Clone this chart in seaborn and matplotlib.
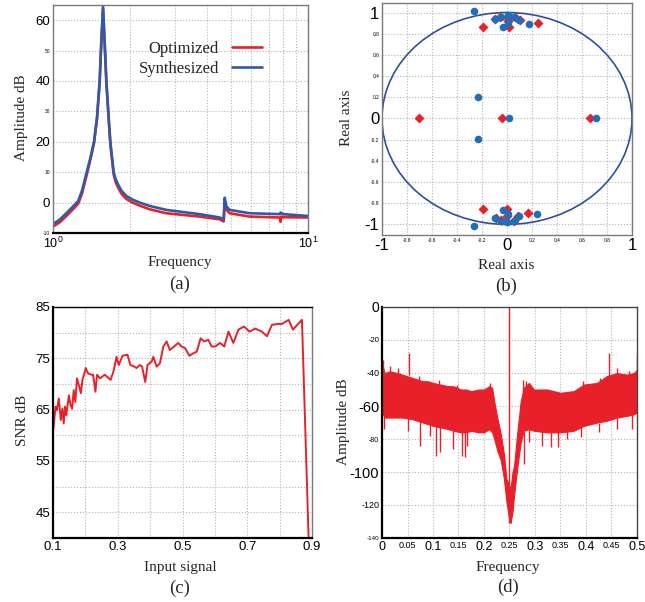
import numpy as np
import pandas as pd
import seaborn as sns
import matplotlib.pyplot as plt
from matplotlib.patches import Circle

# (a) magnitude response, dB
freq_a = [1.0, 1.062, 1.128, 1.19, 1.255, 1.30, 1.355, 1.40, 1.448, 1.488, 1.524, 1.547,
          1.571, 1.594, 1.619, 1.653, 1.678, 1.729, 1.76, 1.798, 1.86, 1.939, 2.05, 2.188,
          2.394, 2.783, 3.76, 4.504, 4.67, 4.713, 4.784, 4.93, 5.904, 7.745, 7.80, 7.862,
          7.98, 10.0]
optimized_db = [-7.9, -6.5, -4.4, -2.4, -0.4, 3.0, 9.0, 14.0, 19.5, 27.5, 39.5, 52.5,
                63.8, 52.5, 39.5, 27.5, 19.3, 9.3, 6.8, 5.0, 2.8, 1.2, 0.0, -1.0,
                -2.2, -3.5, -4.6, -5.5, -6.2, 0.5, -2.3, -3.5, -4.6, -4.9, -6.3, -4.6,
                -4.8, -4.9]
synthesized_db = [-7.1, -5.6, -3.5, -1.5, 0.5, 4.0, 10.0, 14.5, 20.0, 28.0, 40.0, 53.0,
                  64.6, 53.0, 40.0, 28.0, 20.0, 10.0, 7.8, 6.0, 3.8, 2.2, 1.0, 0.0,
                  -1.1, -2.4, -3.8, -4.9, -5.5, 1.6, -1.2, -2.4, -3.5, -3.8, -3.3, -3.4,
                  -3.8, -4.4]

# (b) pole / zero locations
red_x = [-0.099, -0.053, 0.008, 0.061, 0.101, 0.008, -0.195, 0.013, 0.248,
         -0.704, -0.04, 0.661,
         -0.195, 0.003, 0.171, -0.091, -0.051, 0.003, 0.053, 0.091]
red_y = [0.94, 0.956, 0.946, 0.959, 0.93, 0.924, 0.861, 0.861, 0.905,
         0.0, 0.0, 0.0,
         -0.852, -0.858, -0.89, -0.937, -0.962, -0.924, -0.968, -0.924]
blue_x = [-0.264, -0.093, -0.045, 0.008, 0.056, 0.096, 0.008, -0.032, 0.176,
          -0.232, -0.232, 0.013, 0.715,
          -0.264, -0.093, -0.045, 0.003, 0.056, 0.093, 0.008, -0.035, 0.24]
blue_y = [1.013, 0.94, 0.962, 0.975, 0.962, 0.93, 0.899, 0.862, 0.893,
          0.202, -0.196, 0.0, 0.0,
          -1.016, -0.937, -0.965, -0.978, -0.965, -0.924, -0.905, -0.864, -0.902]

# (c) SNR vs input signal
input_signal = [0.100, 0.108, 0.112, 0.118, 0.124, 0.129, 0.133, 0.137, 0.141, 0.149,
                0.154, 0.159, 0.164, 0.169, 0.174, 0.181, 0.186, 0.191, 0.196, 0.201,
                0.208, 0.219, 0.224, 0.231, 0.236, 0.245, 0.260, 0.267, 0.278, 0.288,
                0.296, 0.303, 0.315, 0.330, 0.339, 0.351, 0.358, 0.368, 0.375, 0.385,
                0.392, 0.405, 0.410, 0.420, 0.430, 0.441, 0.451, 0.461, 0.474, 0.487,
                0.497, 0.508, 0.521, 0.534, 0.544, 0.556, 0.567, 0.580, 0.590, 0.601,
                0.616, 0.629, 0.642, 0.657, 0.673, 0.690, 0.707, 0.725, 0.745, 0.761,
                0.776, 0.792, 0.807, 0.828, 0.841, 0.869, 0.890]
snr_db = [60.7, 65.6, 64.9, 67.2, 63.0, 65.2, 62.3, 65.6, 63.9, 67.8,
          65.9, 65.2, 68.8, 66.5, 71.1, 69.5, 68.2, 70.8, 71.8, 73.1,
          72.1, 71.8, 71.8, 68.5, 71.8, 71.1, 71.8, 71.4, 70.8, 72.7,
          75.3, 73.7, 75.5, 75.7, 73.7, 73.4, 73.1, 73.7, 73.4, 70.4,
          73.7, 74.4, 75.3, 73.4, 74.0, 77.3, 78.3, 76.6, 77.3, 78.0,
          77.3, 77.0, 75.5, 76.0, 76.3, 78.9, 78.3, 78.6, 77.3, 77.3,
          78.0, 77.3, 80.2, 78.0, 80.6, 81.2, 80.2, 80.8, 80.2, 79.3,
          81.5, 81.7, 81.7, 82.5, 80.6, 82.5, 39.0]

# (d) output spectrum: band envelope and single spikes
band_freq = [0.0, 0.005, 0.015, 0.03, 0.04, 0.06, 0.07, 0.08, 0.09, 0.10, 0.115, 0.13,
             0.14, 0.155, 0.165, 0.175, 0.19, 0.20, 0.21, 0.216, 0.22, 0.226, 0.233,
             0.239, 0.244, 0.249, 0.252, 0.256, 0.259, 0.265, 0.272, 0.278, 0.288,
             0.298, 0.324, 0.35, 0.376, 0.396, 0.422, 0.44, 0.461, 0.48, 0.494, 0.5]
band_upper = [-34, -40, -39, -40, -41, -43, -44, -45, -45, -46, -47, -48,
              -48, -50, -50, -51, -50, -50, -48, -49, -57, -67, -77,
              -89, -104, -108, -110, -100, -96, -77, -57, -49, -46,
              -50, -50, -52, -51, -47, -46, -42, -40, -41, -40, -38]
band_lower = [-64, -67, -67, -67, -67, -68, -69, -70, -71, -72, -73, -74,
              -75, -76, -76, -75, -76, -76, -74, -76, -80, -87, -93,
              -104, -118, -128, -131, -124, -114, -98, -82, -75, -74,
              -75, -76, -76, -75, -72, -70, -69, -67, -66, -65, -64]
spike_freq = [0.003, 0.05, 0.074, 0.095, 0.106, 0.114, 0.14, 0.157, 0.162, 0.167,
              0.278, 0.288, 0.314, 0.331, 0.345, 0.363, 0.39, 0.425, 0.461, 0.491,
              0.052, 0.25, 0.446, 0.4995,
              0.002, 0.015, 0.031, 0.073, 0.111, 0.147, 0.212, 0.276, 0.283,
              0.394, 0.427, 0.461, 0.484]
spike_base = [-64, -67, -69, -71, -72, -73, -75, -76, -76, -76,
              -75, -74, -75, -76, -76, -75, -73, -70, -67, -65,
              -41, -131, -45, -40,
              -50, -50, -50, -50, -55, -55, -55, -55, -55,
              -55, -50, -50, -50]
spike_tip = [-74, -75, -84, -78, -90, -88, -86, -90, -91, -84,
             -95, -82, -84, -85, -85, -80, -79, -76, -74, -74,
             -27.6, 0, -28, -29,
             -32, -36, -37, -42, -44, -47, -46, -44, -45,
             -45, -43, -37, -39]

RED = '#e8202a'
BLUE = '#2f5aa8'
GRID = dict(color='#b4b4b4', linestyle=':', linewidth=0.8)

sns.set_theme(style="white")
plt.rcParams['font.family'] = ['Liberation Sans', 'DejaVu Sans']
plt.rcParams['mathtext.fontset'] = 'custom'
plt.rcParams['mathtext.rm'] = 'Liberation Sans'
SERIF = ['Liberation Serif', 'DejaVu Serif']

fig = plt.figure(figsize=(6.45, 6.02), dpi=100)
W, H = 645, 602
ax_a = fig.add_axes([53 / W, 1 - 233 / H, 255 / W, 228 / H])
ax_b = fig.add_axes([382 / W, 1 - 235 / H, 250 / W, 232 / H])
ax_c = fig.add_axes([53 / W, 1 - 538 / H, 259 / W, 231 / H])
ax_d = fig.add_axes([382 / W, 1 - 538 / H, 255 / W, 231 / H])


def frame(ax, bottom_dark=False, left_dark=False):
    for side, sp in ax.spines.items():
        sp.set_visible(True)
        sp.set_color('#7a7a7a')
        sp.set_linewidth(1.0)
    if bottom_dark:
        ax.spines['bottom'].set_color('black')
        ax.spines['bottom'].set_linewidth(1.6)
    if left_dark:
        ax.spines['left'].set_color('black')
        ax.spines['left'].set_linewidth(1.6)
    ax.tick_params(direction='in', length=3, width=0.7, pad=2, colors='black')
    ax.grid(True, which='both', **GRID)
    ax.set_axisbelow(True)


def label_sizes(labels, sizes):
    for lab, s in zip(labels, sizes):
        lab.set_fontsize(s)


# ---- (a)
sns.lineplot(x=freq_a, y=optimized_db, ax=ax_a, color=RED, linewidth=1.9, label='Optimized')
sns.lineplot(x=freq_a, y=synthesized_db, ax=ax_a, color=BLUE, linewidth=1.9, label='Synthesized')
ax_a.set_xscale('log')
ax_a.set_xlim(1, 10)
ax_a.set_ylim(-10, 65)
ax_a.set_xticks([1, 10])
ax_a.set_xticklabels(['$10^0$', '$10^1$'], fontsize=9)
ax_a.set_xticks([2, 3, 4, 5, 6, 7, 8, 9], minor=True)
ax_a.set_xticklabels([], minor=True)
ax_a.set_yticks(range(-10, 61, 10))
ax_a.set_yticklabels([str(v) for v in range(-10, 61, 10)])
label_sizes(ax_a.get_yticklabels(), [3.5, 9.5, 3.5, 9.5, 3.5, 9.5, 3.5, 9.5])
frame(ax_a, bottom_dark=True)
leg = ax_a.legend(loc='upper right', bbox_to_anchor=(0.88, 0.91), frameon=False,
                  markerfirst=False, handlelength=1.8, handletextpad=0.8,
                  labelspacing=0.25, prop={'family': SERIF, 'size': 12})

# ---- (b)
ax_b.add_patch(Circle((0, 0), 1, fill=False, color='#2e4f9e', linewidth=1.2))
sns.scatterplot(x=red_x, y=red_y, ax=ax_b, marker='D', color=RED, s=26, linewidth=0)
sns.scatterplot(x=blue_x, y=blue_y, ax=ax_b, marker='o', color='#1f6fb8', s=30, linewidth=0)
ax_b.set_xlim(-1, 1)
ax_b.set_ylim(-1.1, 1.09)
tk = np.round(np.arange(-1, 1.01, 0.2), 1)
tk_lab = ['0' if abs(v) < 1e-9 else '%g' % v for v in tk]
tk_size = [12 if abs(v) < 1e-9 or abs(abs(v) - 1) < 1e-9 else 3.5 for v in tk]
ax_b.set_xticks(tk)
ax_b.set_xticklabels(tk_lab)
ax_b.set_yticks(tk)
ax_b.set_yticklabels(tk_lab)
label_sizes(ax_b.get_xticklabels(), tk_size)
label_sizes(ax_b.get_yticklabels(), tk_size)
frame(ax_b)
ax_b.tick_params(length=2)

# ---- (c)
sns.lineplot(x=input_signal, y=snr_db, ax=ax_c, color=RED, linewidth=1.4)
ax_c.set_xlim(0.1, 0.9)
ax_c.set_ylim(40, 85)
ax_c.set_xticks(np.arange(0.1, 0.91, 0.1))
ax_c.set_xticklabels(['0.1', '', '0.3', '', '0.5', '', '0.7', '', '0.9'], fontsize=9.5)
ax_c.set_yticks(range(40, 86, 5))
ax_c.set_yticklabels(['', '45', '', '55', '', '65', '', '75', '', '85'], fontsize=9.5)
frame(ax_c, bottom_dark=True, left_dark=True)
ax_c.spines['top'].set_color('black')

# ---- (d)
ax_d.fill_between(band_freq, band_lower, band_upper, color=RED, linewidth=0.8, edgecolor=RED)
ax_d.vlines(spike_freq, spike_base, spike_tip, color=RED, linewidth=1.0)
ax_d.set_xlim(0, 0.5)
ax_d.set_ylim(-140, 0)
ax_d.set_xticks(np.round(np.arange(0, 0.501, 0.05), 2))
ax_d.set_xticklabels(['0', '0.05', '0.1', '0.15', '0.2', '0.25', '0.3', '0.35', '0.4', '0.45', '0.5'])
label_sizes(ax_d.get_xticklabels(), [9, 6.5, 9, 6.5, 9, 6.5, 9, 6.5, 9, 6.5, 9])
ax_d.set_yticks(range(-140, 1, 20))
ax_d.set_yticklabels([str(v) for v in range(-140, 1, 20)])
label_sizes(ax_d.get_yticklabels(), [4.5, 6.5, 10.5, 5, 10.5, 6.5, 5.5, 10])
frame(ax_d, bottom_dark=True, left_dark=True)
ax_d.spines['top'].set_color('#444444')
ax_d.spines['right'].set_color('#444444')

# ---- axis labels and panel captions
def ftext(x, y, s, size, rot=0):
    fig.text(x / W, 1 - y / H, s, ha='center', va='center', rotation=rot,
             family=SERIF, fontsize=size)

ftext(180, 262, 'Frequency', 11)
ftext(180, 284, '(a)', 13.5)
ftext(22, 118, 'Amplitude dB', 11, 90)
ftext(506, 265, 'Real axis', 11)
ftext(506, 286, '(b)', 13.5)
ftext(347, 118, 'Real axis', 11, 90)
ftext(180, 567, 'Input signal', 11)
ftext(180, 588, '(c)', 13.5)
ftext(22, 420, 'SNR dB', 11, 90)
ftext(508, 567, 'Frequency', 11)
ftext(508, 587, '(d)', 13.5)
ftext(343, 422, 'Amplitude dB', 11, 90)

fig.savefig('out.png', dpi=100)
